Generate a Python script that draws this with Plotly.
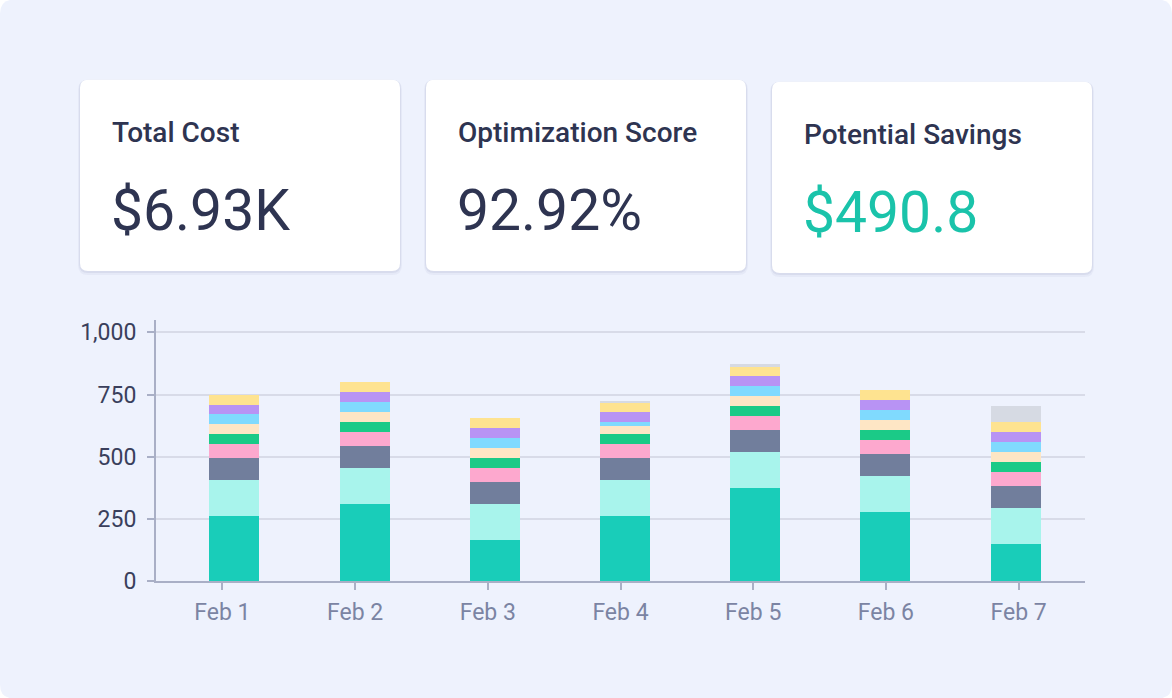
import plotly.graph_objects as go

# ---------------- data ----------------
days = ["Feb 1", "Feb 2", "Feb 3", "Feb 4", "Feb 5", "Feb 6", "Feb 7"]
compute   = [261, 309, 164, 261, 374, 277, 148]
storage   = [145, 145, 145, 145, 145, 145, 145]
network   = [88, 89, 89, 88, 88, 89, 89]
database  = [56, 56, 56, 56, 56, 56, 56]
cache     = [40, 40, 40, 40, 40, 40, 40]
queue     = [40, 40, 40, 32, 40, 40, 40]
cdn       = [40, 40, 40, 16, 40, 40, 40]
logging   = [40, 40, 40, 40, 40, 40, 40]
backup    = [40, 40, 40, 40, 40, 40, 41]
other     = [0, 0, 0, 6, 8, 0, 67]

series_names = ["Compute", "Storage", "Network", "Database", "Cache",
                "Queue", "CDN", "Logging", "Backup", "Other"]
series_vals = [compute, storage, network, database, cache,
               queue, cdn, logging, backup, other]
series_colors = ["#19CDB9", "#A8F4EC", "#717E9C", "#FDA8CE", "#1BCA87",
                 "#FEE6C5", "#80DAFE", "#B893F4", "#FEE390", "#D6DAE3"]

kpi_titles = ["Total Cost", "Optimization Score", "Potential Savings"]
kpi_values = ["$6.93K", "92.92%", "$490.8"]
kpi_colors = ["#2E3451", "#2E3451", "#1AC3AA"]

y_ticks = [0, 250, 500, 750, 1000]

# ---------------- layout geometry ----------------
W, H = 1172, 698
L, R = 156, 1085
T, B = 320, 580.7
PW, PH = R - L, B - T


def px(x):
    return (x - L) / PW


def py(y):
    return (B - y) / PH


def rrect(x0, y0, x1, y1, r):
    pts = [
        f"M{px(x0 + r)},{py(y0)}",
        f"L{px(x1 - r)},{py(y0)}",
        f"Q{px(x1)},{py(y0)} {px(x1)},{py(y0 + r)}",
        f"L{px(x1)},{py(y1 - r)}",
        f"Q{px(x1)},{py(y1)} {px(x1 - r)},{py(y1)}",
        f"L{px(x0 + r)},{py(y1)}",
        f"Q{px(x0)},{py(y1)} {px(x0)},{py(y1 - r)}",
        f"L{px(x0)},{py(y0 + r)}",
        f"Q{px(x0)},{py(y0)} {px(x0 + r)},{py(y0)}",
        "Z",
    ]
    return " ".join(pts)


fig = go.Figure()

cat_w = PW / len(days)
bar_px = 50
offsets = [((12 - 2.5 * i) - bar_px / 2) / cat_w for i in range(len(days))]

for name, vals, col in zip(series_names, series_vals, series_colors):
    fig.add_trace(go.Bar(
        x=days, y=vals, name=name,
        marker=dict(color=col, line=dict(width=0)),
        width=bar_px / cat_w, offset=offsets,
        showlegend=False,
    ))

shapes = []
# page background
shapes.append(dict(type="path", path=rrect(0, 0, W, H, 14), xref="paper", yref="paper",
                   fillcolor="#EEF2FD", line=dict(width=0), layer="below"))

cards = [(80, 80, 400, 271), (426, 80, 746, 271), (772, 82, 1092, 273)]
for (x0, y0, x1, y1) in cards:
    shapes.append(dict(type="path", path=rrect(x0 - 2, y0, x1 + 2, y1 + 4, 10), xref="paper",
                       yref="paper", fillcolor="rgba(70,80,130,0.05)", line=dict(width=0), layer="below"))
    shapes.append(dict(type="path", path=rrect(x0 - 1, y0, x1 + 1, y1 + 2, 9), xref="paper",
                       yref="paper", fillcolor="rgba(70,80,130,0.08)", line=dict(width=0), layer="below"))
    shapes.append(dict(type="path", path=rrect(x0, y0, x1, y1, 8), xref="paper", yref="paper",
                       fillcolor="#FFFFFF", line=dict(width=0), layer="below"))

annotations = []
for i, (x0, y0, x1, y1) in enumerate(cards):
    annotations.append(dict(
        text=kpi_titles[i], x=px(x0 + 30), y=py(y0 + 53), xref="paper", yref="paper",
        xanchor="left", yanchor="middle", showarrow=False,
        font=dict(family="Roboto", size=28, color="#2E3451", weight=500),
    ))
    annotations.append(dict(
        text=kpi_values[i], x=px(x0 + 29), y=py(y0 + 131), xref="paper", yref="paper",
        xanchor="left", yanchor="middle", showarrow=False,
        font=dict(family="Roboto", size=57, color=kpi_colors[i]),
    ))

fig.update_layout(
    width=W, height=H,
    margin=dict(l=L, r=W - R, t=T, b=H - B, pad=0),
    paper_bgcolor="#FFFFFF",
    plot_bgcolor="rgba(0,0,0,0)",
    barmode="stack",
    shapes=shapes,
    annotations=annotations,
    font=dict(family="Roboto"),
    xaxis=dict(
        type="category", showgrid=False, showline=True, linecolor="#A9AFC6", linewidth=2,
        ticks="outside", ticklen=7, tickwidth=2, tickcolor="#A9AFC6",
        tickfont=dict(family="Roboto", size=23, color="#7B84A3"),
        ticklabelstandoff=2,
        zeroline=False, fixedrange=True,
    ),
    yaxis=dict(
        range=[0, 1050], tickvals=y_ticks, tickformat=",",
        showgrid=True, gridcolor="#D8DBE8", gridwidth=2,
        showline=True, linecolor="#A9AFC6", linewidth=2,
        ticks="outside", ticklen=7, tickwidth=2, tickcolor="#A9AFC6",
        tickfont=dict(family="Roboto", size=23, color="#3A3F5C"),
        ticklabelstandoff=6,
        zeroline=False, fixedrange=True,
    ),
)

fig.write_html(
    "out.html",
    config={"displayModeBar": False},
    post_script="document.body.style.margin='0';document.body.style.overflow='hidden';",
)
